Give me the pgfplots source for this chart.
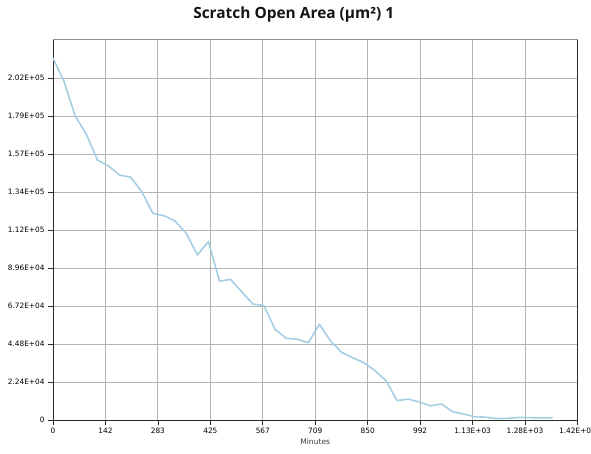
\documentclass[border=0pt]{standalone}
\usepackage{fontspec}
\setmainfont{DejaVu Sans}
\newfontfamily\titlefont{Open Sans}
\usepackage{pgfplots}
\pgfplotsset{compat=1.18}
\definecolor{linec}{RGB}{166,206,227}
\definecolor{gridc}{RGB}{180,180,180}
\definecolor{axc}{RGB}{40,40,40}
\begin{document}
\begin{tikzpicture}
\useasboundingbox (-53bp,-34bp) rectangle (538bp,420bp);
\begin{axis}[
  at={(0,0)}, anchor=south west,
  scale only axis, width=524.5bp, height=380bp,
  xmin=0, xmax=1417.5, ymin=0, ymax=224000,
  axis x line*=bottom, axis y line*=left,
  axis line style={axc, line width=1bp, -},
  xtick={0,141.75,283.5,425.25,567,708.75,850.5,992.25,1134,1275.75,1417.5},
  xticklabels={0,142,283,425,567,709,850,992,1.13E+03,1.28E+03,1.42E+03},
  ytick={0,22400,44800,67200,89600,112000,134400,156800,179200,201600},
  yticklabels={0,2.24E+04,4.48E+04,6.72E+04,8.96E+04,1.12E+05,1.34E+05,1.57E+05,1.79E+05,2.02E+05},
  scaled ticks=false,
  tick align=outside, major tick length=5bp,
  tick style={axc, line width=0.8bp},
  grid=major, major grid style={gridc, line width=0.9bp},
  ticklabel style={font=\fontsize{7.4}{8}\selectfont, text=black},
  xlabel={Minutes},
  xlabel style={font=\fontsize{7.6}{8}\selectfont, text={rgb,255:red,60;green,60;blue,60}, at={(axis description cs:0.5,0)}, anchor=center, yshift=-22bp},
  title={Scratch Open Area (μm²) 1},
  title style={font=\titlefont\bfseries\fontsize{15.5}{18}\selectfont, text={rgb,255:red,20;green,20;blue,20}, at={(axis description cs:0.459,1)}, anchor=center, yshift=20bp},
  clip=false,
]
\addplot[linec, line width=1.6bp, line join=round] coordinates {
(0,213400) (30,199400) (60,179200) (90,168400) (120,153300) (150,149700)
(180,144400) (210,143100) (240,134600) (270,121800) (300,120400) (330,117300)
(360,110100) (390,97300) (420,105100) (450,81900) (480,82900) (510,75600)
(540,68400) (570,67500) (600,53500) (630,48200) (660,47600) (690,45600)
(720,56400) (750,46600) (780,39900) (810,36700) (840,33800) (870,29100)
(900,23200) (930,11400) (960,12300) (990,10600) (1020,8400) (1050,9400)
(1080,4900) (1110,3500) (1140,1900) (1170,1650) (1200,800) (1230,1000)
(1260,1500) (1290,1400) (1320,1200) (1350,1350)
};
\draw[gridc!80!black, line width=1bp] (axis description cs:0,1) -- (axis description cs:1,1);
\draw[axc, line width=1bp] (axis description cs:1,0) -- (axis description cs:1,1);
\end{axis}
\end{tikzpicture}
\end{document}
